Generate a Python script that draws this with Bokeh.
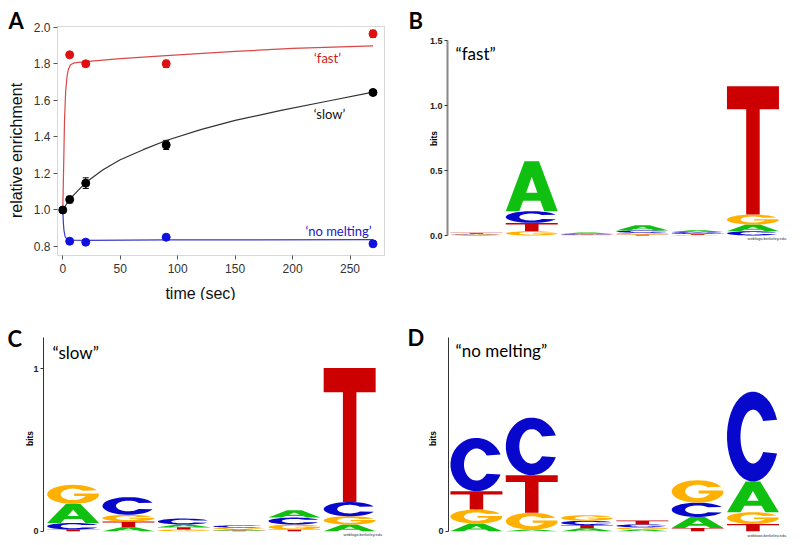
import numpy as np
from bokeh.plotting import figure
from bokeh.layouts import column, row
from bokeh.models import Range1d, Label, Whisker, ColumnDataSource, FixedTicker, TeeHead, BoxAnnotation
from bokeh.embed import file_html
from bokeh.resources import INLINE

# ---------------- Panel A data ----------------
fast_t = [6, 20, 90, 270]
fast_y = [1.849, 1.800, 1.800, 1.964]
fast_err = [0.012, 0.014, 0.020, 0.020]
slow_t = [0, 6, 20, 90, 270]
slow_y = [1.000, 1.057, 1.147, 1.356, 1.643]
slow_err = [0.006, 0.018, 0.029, 0.025, 0.015]
nomelt_t = [6, 20, 90, 270]
nomelt_y = [0.829, 0.824, 0.851, 0.815]
nomelt_err = [0.004, 0.004, 0.004, 0.004]

fast_fit_t = [0, 0.7, 1.5, 2.5, 3.8, 5, 6.7, 10, 20, 50, 90, 150, 200, 270]
fast_fit_y = [1.0, 1.22, 1.49, 1.65, 1.736, 1.772, 1.795, 1.805, 1.812, 1.828, 1.845, 1.868, 1.884, 1.898]
slow_fit_t = [0, 3, 6, 10, 20, 35, 50, 70, 90, 120, 150, 190, 230, 270]
slow_fit_y = [1.0, 1.03, 1.056, 1.085, 1.15, 1.22, 1.275, 1.33, 1.38, 1.44, 1.49, 1.545, 1.595, 1.645]
nomelt_fit_t = [0, 0.5, 1, 2, 3.5, 6, 20, 90, 270]
nomelt_fit_y = [1.0, 0.93, 0.89, 0.855, 0.84, 0.835, 0.834, 0.836, 0.838]

x_ticks_A = [0, 50, 100, 150, 200, 250]
y_ticks_A = [0.8, 1.0, 1.2, 1.4, 1.6, 1.8, 2.0]

# ---------------- Logo data (bits per position) ----------------
positions = [1, 2, 3, 4, 5, 6]
fast_A = [0.004, 0.385, 0.010, 0.040, 0.015, 0.051]
fast_C = [0.004, 0.090, 0.006, 0.018, 0.013, 0.033]
fast_G = [0.005, 0.033, 0.003, 0.013, 0.005, 0.077]
fast_T = [0.008, 0.064, 0.004, 0.008, 0.008, 0.987]

slow_A = [0.117, 0.025, 0.016, 0.008, 0.045, 0.041]
slow_C = [0.041, 0.109, 0.037, 0.014, 0.043, 0.088]
slow_G = [0.118, 0.041, 0.010, 0.010, 0.031, 0.051]
slow_T = [0.010, 0.035, 0.015, 0.004, 0.010, 0.825]

nomelt_A = [0.047, 0.010, 0.018, 0.010, 0.068, 0.189]
nomelt_C = [0.329, 0.355, 0.026, 0.018, 0.088, 0.554]
nomelt_G = [0.086, 0.103, 0.035, 0.014, 0.138, 0.072]
nomelt_T = [0.113, 0.232, 0.020, 0.024, 0.020, 0.045]

LETTER_COLORS = {"A": "#10C010", "C": "#0808CC", "G": "#FFB000", "T": "#CC0000"}


def arc(cx, cy, rx, ry, a0, a1, n=36):
    t = np.radians(np.linspace(a0, a1, n))
    return list(zip(cx + rx * np.cos(t), cy + ry * np.sin(t)))


def letter_rings(ch):
    if ch == "T":
        return [[(0, 1), (1, 1), (1, 0.82), (0.63, 0.82), (0.63, 0), (0.37, 0), (0.37, 0.82), (0, 0.82)]]
    if ch == "A":
        ext = [(0, 0), (0.36, 1), (0.64, 1), (1, 0), (0.74, 0), (0.665, 0.21), (0.335, 0.21), (0.26, 0)]
        hole = [(0.392, 0.37), (0.608, 0.37), (0.5, 0.69)]
        return [ext, hole]
    if ch == "C":
        ext = arc(0.5, 0.5, 0.5, 0.5, 22, 338) + arc(0.5, 0.5, 0.24, 0.30, 325, 35)
        return [ext]
    if ch == "G":
        ext = (arc(0.5, 0.5, 0.5, 0.5, 25, 350)
               + [(0.995, 0.54), (0.52, 0.54), (0.52, 0.41), (0.74, 0.41)]
               + arc(0.5, 0.5, 0.24, 0.30, 330, 38))
        return [ext]


def logo_source(heights):
    xs, ys, cols = [], [], []
    for i, pos in enumerate(positions):
        items = sorted([(heights[k][i], k) for k in "ACGT"])
        base = 0.0
        for h, k in items:
            x0, x1 = pos - 0.47, pos + 0.47
            rings_x, rings_y = [], []
            for ring in letter_rings(k):
                rings_x.append([x0 + u * (x1 - x0) for u, v in ring])
                rings_y.append([base + v * h for u, v in ring])
            xs.append([rings_x])
            ys.append([rings_y])
            cols.append(LETTER_COLORS[k])
            base += h
    return ColumnDataSource(dict(xs=xs, ys=ys, color=cols))


# ---------------- geometry helpers ----------------
# The plotting frame covers the whole figure; the axes are pinned (fixed_location)
# at the edges of the data box, so every text can sit anywhere on the canvas.
def make_fig(origin, size, box, xr, yr):
    ox, oy = origin
    W, H = size
    fl, ft, fr, fb = box
    xpp = (xr[1] - xr[0]) / (fr - fl)
    ypp = (yr[1] - yr[0]) / (fb - ft)
    fx0 = xr[0] - (fl - ox) * xpp
    fx1 = xr[0] + (ox + W - fl) * xpp
    fy1 = yr[1] + (ft - oy) * ypp
    fy0 = yr[0] - (oy + H - fb) * ypp
    p = figure(width=W, height=H, x_range=Range1d(fx0, fx1), y_range=Range1d(fy0, fy1),
               output_backend="svg", toolbar_location=None, min_border=0,
               min_border_left=0, min_border_right=0, min_border_top=0, min_border_bottom=0)
    p.grid.visible = False
    p.outline_line_color = None
    p.background_fill_color = "white"
    p.border_fill_color = "white"
    p.xaxis.fixed_location = yr[0]
    p.yaxis.fixed_location = xr[0]

    def to_data(px, py):
        return fx0 + (px - ox) * xpp, fy1 - (py - oy) * ypp
    return p, to_data


def add_label(p, conv, px, py, text, size, color="black", font="Lato", style="normal",
              align="left", baseline="middle", angle=0.0):
    x, y = conv(px, py)
    p.add_layout(Label(x=x, y=y, text=text, text_font_size=f"{size}px", text_color=color,
                       text_font=font, text_font_style=style, text_align=align,
                       text_baseline=baseline, angle=angle))


# ---------------- Panel A ----------------
A_xr, A_yr = (-4.6, 280.0), (0.751, 2.004)
pA, cA = make_fig((0, 0), (400, 300), (57, 26, 384, 255), A_xr, A_yr)
pA.add_layout(BoxAnnotation(left=A_xr[0], right=A_xr[1], bottom=A_yr[0], top=A_yr[1],
                            fill_alpha=0, line_color="#808080", line_width=1, level="underlay"))
for ax in (pA.xaxis[0], pA.yaxis[0]):
    ax.axis_line_color = None
    ax.major_tick_line_color = "#555555"
    ax.major_tick_out = 4
    ax.major_tick_in = 0
    ax.minor_tick_line_color = None
    ax.major_label_text_font = "Liberation Sans"
    ax.major_label_text_font_size = "12px"
    ax.major_label_text_color = "#333333"
    ax.axis_label_text_font = "Liberation Sans"
    ax.axis_label_text_font_size = "16px"
    ax.axis_label_text_font_style = "normal"
    ax.axis_label_text_color = "#111111"
pA.xaxis.ticker = FixedTicker(ticks=x_ticks_A)
pA.yaxis.ticker = FixedTicker(ticks=y_ticks_A)
pA.yaxis.major_label_overrides = {v: f"{v:.1f}" for v in y_ticks_A}
pA.xaxis.axis_label = "time (sec)"
pA.yaxis.axis_label = "relative enrichment"
pA.xaxis.major_label_standoff = 4
pA.yaxis.major_label_standoff = 3
pA.xaxis.axis_label_standoff = 9
pA.yaxis.axis_label_standoff = 6

pA.line(fast_fit_t, fast_fit_y, line_color="#D94848", line_width=1.2)
pA.line(slow_fit_t, slow_fit_y, line_color="#333333", line_width=1.2)
pA.line(nomelt_fit_t, nomelt_fit_y, line_color="#3A3AC8", line_width=1.2)

for t, y, e, col in ((fast_t, fast_y, fast_err, "#E01010"),
                     (slow_t, slow_y, slow_err, "#000000"),
                     (nomelt_t, nomelt_y, nomelt_err, "#1010E0")):
    src = ColumnDataSource(dict(x=t, y=y, lo=[a - b for a, b in zip(y, e)], hi=[a + b for a, b in zip(y, e)]))
    pA.add_layout(Whisker(source=src, base="x", upper="hi", lower="lo", line_color=col, line_width=1,
                          upper_head=TeeHead(size=6, line_color=col, line_width=1),
                          lower_head=TeeHead(size=6, line_color=col, line_width=1)))
    pA.scatter(x="x", y="y", source=src, size=8, fill_color=col, line_color=col)

add_label(pA, cA, 327, 57, "\u2018fast\u2019", 13, color="#D01818", align="center")
add_label(pA, cA, 329, 113, "\u2018slow\u2019", 13, color="#111111", align="center")
add_label(pA, cA, 338, 230, "\u2018no melting\u2019", 13, color="#1A1AC0", align="center")
add_label(pA, cA, 8, 20, "A", 22, style="bold")


# ---------------- Logo panels ----------------
def logo_panel(origin, size, box, xr, yr, heights, ticks, tick_labels, axis_color, axis_width,
               letter, letter_pos, title, title_pos, bits_pos, web_pos):
    p, conv = make_fig(origin, size, box, xr, yr)
    p.xaxis.visible = False
    ax = p.yaxis[0]
    ax.bounds = (0, yr[1])
    ax.ticker = FixedTicker(ticks=ticks)
    ax.major_label_overrides = dict(zip(ticks, tick_labels))
    ax.axis_line_color = axis_color
    ax.axis_line_width = axis_width
    ax.major_tick_line_color = "#333333"
    ax.major_tick_out = 3
    ax.major_tick_in = 0
    ax.minor_tick_line_color = None
    ax.major_label_text_font = "Liberation Sans"
    ax.major_label_text_font_style = "bold"
    ax.major_label_text_font_size = "9px"
    ax.major_label_text_color = "#222222"
    ax.major_label_standoff = 2
    src = logo_source(heights)
    p.multi_polygons(xs="xs", ys="ys", source=src, fill_color="color", line_color=None)
    add_label(p, conv, letter_pos[0], letter_pos[1], letter, 22, style="bold")
    add_label(p, conv, title_pos[0], title_pos[1], title, 17)
    add_label(p, conv, bits_pos[0], bits_pos[1], "bits", 8.5, font="Liberation Sans", style="bold",
              align="center", angle=np.pi / 2)
    add_label(p, conv, web_pos[0], web_pos[1], "weblogo.berkeley.edu", 4, color="#333333",
              font="Liberation Sans")
    return p


colw = 55.3
# B
bx0 = 0.5 - (448.3 - 447) / colw
pB = logo_panel((400, 0), (392, 300), (447, 40, 788, 241), (bx0, bx0 + 341 / colw), (-6 / 130, 1.5),
                {"A": fast_A, "C": fast_C, "G": fast_G, "T": fast_T},
                [0, 0.5, 1.0, 1.5], ["0.0", "0.5", "1.0", "1.5"], "#888888", 2,
                "B", (408, 20), "\u201cfast\u201d", (455, 52.5), (433, 138), (747, 238))
# C
cx0 = 0.5 - (45 - 43) / colw
cy1 = (530.7 - 337) / 162.3
cy0 = -(536 - 530.7) / 162.3
pC = logo_panel((0, 300), (400, 237), (43, 337, 396, 536), (cx0, cx0 + 353 / colw), (cy0, cy1),
                {"A": slow_A, "C": slow_C, "G": slow_G, "T": slow_T},
                [0, 1], ["0", "1"], "#333333", 1,
                "C", (7, 337.5), "\u201cslow\u201d", (52, 352), (29, 438), (343, 534))
# D
dx0 = 0.5 - (448.3 - 448) / colw
pD = logo_panel((400, 300), (392, 237), (448, 337, 788, 536), (dx0, dx0 + 340 / colw), (cy0, cy1),
                {"A": nomelt_A, "C": nomelt_C, "G": nomelt_G, "T": nomelt_T},
                [0], ["0"], "#333333", 1,
                "D", (407, 337), "\u201cno melting\u201d", (455, 350), (432.7, 438), (747, 535))

layout = column(row(pA, pB), row(pC, pD))
open("out.html", "w").write(file_html(layout, INLINE))
